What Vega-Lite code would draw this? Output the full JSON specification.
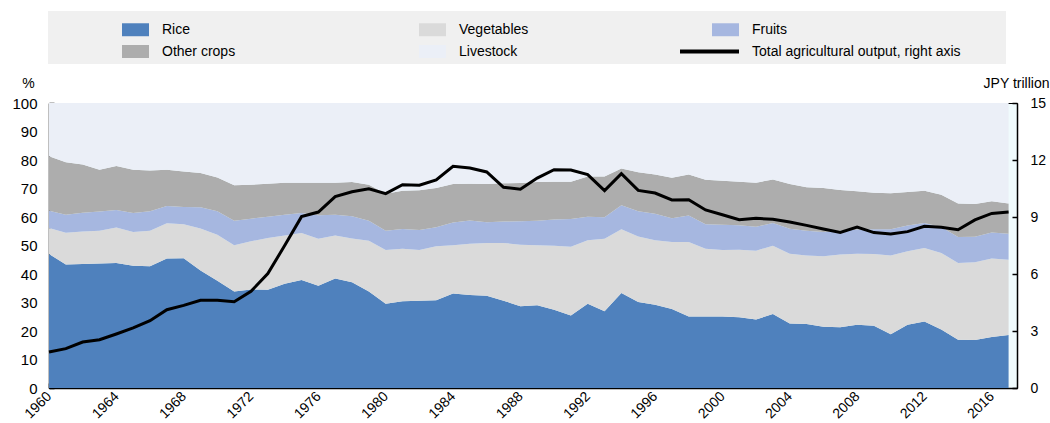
{
  "$schema": "https://vega.github.io/schema/vega-lite/v6.json",
  "width": 968,
  "height": 285,
  "autosize": "none",
  "padding": {"left": 49, "top": 103, "right": 33, "bottom": 35},
  "background": "#ffffff",
  "config": {
    "font": "Liberation Sans",
    "view": {"stroke": "#000000", "strokeWidth": 1, "fill": "#f0fbfd"},
    "axis": {"domainColor": "#000000", "tickColor": "#000000", "labelColor": "#000000", "titleColor": "#000000", "labelFontSize": 14, "titleFontSize": 14, "titleFontWeight": "normal", "grid": false, "domainWidth": 1.5, "tickWidth": 1.5}
  },
  "data": {
    "values": [
      {"year": 1960, "Rice": 47.0, "Vegetables": 9.1, "Fruits": 6.1, "Other crops": 19.1, "Livestock": 18.7, "total": 1.89},
      {"year": 1961, "Rice": 43.3, "Vegetables": 11.2, "Fruits": 6.3, "Other crops": 18.4, "Livestock": 20.8, "total": 2.07},
      {"year": 1962, "Rice": 43.5, "Vegetables": 11.4, "Fruits": 6.6, "Other crops": 16.9, "Livestock": 21.6, "total": 2.42},
      {"year": 1963, "Rice": 43.7, "Vegetables": 11.5, "Fruits": 6.7, "Other crops": 14.7, "Livestock": 23.4, "total": 2.54},
      {"year": 1964, "Rice": 43.9, "Vegetables": 12.4, "Fruits": 6.2, "Other crops": 15.4, "Livestock": 22.1, "total": 2.84},
      {"year": 1965, "Rice": 42.9, "Vegetables": 11.8, "Fruits": 6.7, "Other crops": 15.2, "Livestock": 23.4, "total": 3.16},
      {"year": 1966, "Rice": 42.7, "Vegetables": 12.5, "Fruits": 6.8, "Other crops": 14.3, "Livestock": 23.7, "total": 3.54},
      {"year": 1967, "Rice": 45.4, "Vegetables": 12.4, "Fruits": 6.1, "Other crops": 12.7, "Livestock": 23.4, "total": 4.12},
      {"year": 1968, "Rice": 45.5, "Vegetables": 12.0, "Fruits": 6.0, "Other crops": 12.5, "Livestock": 24.0, "total": 4.35},
      {"year": 1969, "Rice": 41.2, "Vegetables": 14.8, "Fruits": 7.4, "Other crops": 12.0, "Livestock": 24.6, "total": 4.62},
      {"year": 1970, "Rice": 37.6, "Vegetables": 16.2, "Fruits": 8.2, "Other crops": 11.9, "Livestock": 26.1, "total": 4.62},
      {"year": 1971, "Rice": 33.9, "Vegetables": 16.2, "Fruits": 8.6, "Other crops": 12.4, "Livestock": 28.9, "total": 4.54},
      {"year": 1972, "Rice": 34.6, "Vegetables": 16.9, "Fruits": 7.9, "Other crops": 11.9, "Livestock": 28.7, "total": 5.09},
      {"year": 1973, "Rice": 34.5, "Vegetables": 18.1, "Fruits": 7.5, "Other crops": 11.6, "Livestock": 28.3, "total": 6.02},
      {"year": 1974, "Rice": 36.6, "Vegetables": 16.9, "Fruits": 7.3, "Other crops": 11.2, "Livestock": 28.0, "total": 7.5},
      {"year": 1975, "Rice": 37.9, "Vegetables": 16.5, "Fruits": 7.0, "Other crops": 10.6, "Livestock": 28.0, "total": 9.02},
      {"year": 1976, "Rice": 35.9, "Vegetables": 16.5, "Fruits": 8.2, "Other crops": 11.4, "Livestock": 28.0, "total": 9.26},
      {"year": 1977, "Rice": 38.4, "Vegetables": 15.1, "Fruits": 7.3, "Other crops": 11.2, "Livestock": 28.0, "total": 10.07},
      {"year": 1978, "Rice": 37.1, "Vegetables": 15.4, "Fruits": 7.8, "Other crops": 12.0, "Livestock": 27.7, "total": 10.33},
      {"year": 1979, "Rice": 33.9, "Vegetables": 17.8, "Fruits": 7.0, "Other crops": 12.6, "Livestock": 28.7, "total": 10.49},
      {"year": 1980, "Rice": 29.6, "Vegetables": 18.8, "Fruits": 6.8, "Other crops": 13.0, "Livestock": 31.8, "total": 10.23},
      {"year": 1981, "Rice": 30.4, "Vegetables": 18.5, "Fruits": 6.9, "Other crops": 13.4, "Livestock": 30.8, "total": 10.7},
      {"year": 1982, "Rice": 30.6, "Vegetables": 17.8, "Fruits": 7.0, "Other crops": 14.0, "Livestock": 30.6, "total": 10.67},
      {"year": 1983, "Rice": 30.8, "Vegetables": 18.9, "Fruits": 6.7, "Other crops": 13.8, "Livestock": 29.8, "total": 10.95},
      {"year": 1984, "Rice": 33.2, "Vegetables": 16.9, "Fruits": 8.0, "Other crops": 13.5, "Livestock": 28.4, "total": 11.67},
      {"year": 1985, "Rice": 32.6, "Vegetables": 18.0, "Fruits": 8.2, "Other crops": 12.9, "Livestock": 28.3, "total": 11.58},
      {"year": 1986, "Rice": 32.4, "Vegetables": 18.5, "Fruits": 7.3, "Other crops": 13.4, "Livestock": 28.4, "total": 11.37},
      {"year": 1987, "Rice": 30.6, "Vegetables": 20.3, "Fruits": 7.5, "Other crops": 13.4, "Livestock": 28.2, "total": 10.56},
      {"year": 1988, "Rice": 28.7, "Vegetables": 21.6, "Fruits": 8.2, "Other crops": 13.4, "Livestock": 28.1, "total": 10.46},
      {"year": 1989, "Rice": 29.0, "Vegetables": 21.1, "Fruits": 8.6, "Other crops": 13.6, "Livestock": 27.7, "total": 11.05},
      {"year": 1990, "Rice": 27.5, "Vegetables": 22.4, "Fruits": 9.2, "Other crops": 13.3, "Livestock": 27.6, "total": 11.49},
      {"year": 1991, "Rice": 25.4, "Vegetables": 24.2, "Fruits": 9.7, "Other crops": 13.1, "Livestock": 27.6, "total": 11.47},
      {"year": 1992, "Rice": 29.6, "Vegetables": 22.2, "Fruits": 8.3, "Other crops": 14.1, "Livestock": 25.8, "total": 11.23},
      {"year": 1993, "Rice": 26.9, "Vegetables": 25.5, "Fruits": 7.5, "Other crops": 14.3, "Livestock": 25.8, "total": 10.39},
      {"year": 1994, "Rice": 33.3, "Vegetables": 22.4, "Fruits": 8.4, "Other crops": 12.9, "Livestock": 23.0, "total": 11.28},
      {"year": 1995, "Rice": 30.2, "Vegetables": 23.0, "Fruits": 8.8, "Other crops": 13.7, "Livestock": 24.3, "total": 10.4},
      {"year": 1996, "Rice": 29.2, "Vegetables": 22.6, "Fruits": 9.3, "Other crops": 13.8, "Livestock": 25.1, "total": 10.26},
      {"year": 1997, "Rice": 27.7, "Vegetables": 23.5, "Fruits": 8.4, "Other crops": 14.2, "Livestock": 26.2, "total": 9.9},
      {"year": 1998, "Rice": 25.1, "Vegetables": 26.1, "Fruits": 9.3, "Other crops": 14.4, "Livestock": 25.1, "total": 9.91},
      {"year": 1999, "Rice": 25.1, "Vegetables": 23.8, "Fruits": 8.6, "Other crops": 15.6, "Livestock": 26.9, "total": 9.37},
      {"year": 2000, "Rice": 25.1, "Vegetables": 23.3, "Fruits": 8.9, "Other crops": 15.4, "Livestock": 27.3, "total": 9.12},
      {"year": 2001, "Rice": 24.8, "Vegetables": 23.7, "Fruits": 8.6, "Other crops": 15.3, "Livestock": 27.6, "total": 8.86},
      {"year": 2002, "Rice": 24.0, "Vegetables": 24.2, "Fruits": 8.4, "Other crops": 15.4, "Livestock": 28.0, "total": 8.93},
      {"year": 2003, "Rice": 26.0, "Vegetables": 23.9, "Fruits": 8.0, "Other crops": 15.3, "Livestock": 26.8, "total": 8.88},
      {"year": 2004, "Rice": 22.6, "Vegetables": 24.5, "Fruits": 8.8, "Other crops": 15.7, "Livestock": 28.4, "total": 8.74},
      {"year": 2005, "Rice": 22.5, "Vegetables": 24.0, "Fruits": 8.7, "Other crops": 15.2, "Livestock": 29.6, "total": 8.56},
      {"year": 2006, "Rice": 21.5, "Vegetables": 24.7, "Fruits": 8.5, "Other crops": 15.5, "Livestock": 29.8, "total": 8.37},
      {"year": 2007, "Rice": 21.3, "Vegetables": 25.5, "Fruits": 8.4, "Other crops": 14.3, "Livestock": 30.5, "total": 8.19},
      {"year": 2008, "Rice": 22.2, "Vegetables": 24.9, "Fruits": 8.5, "Other crops": 13.4, "Livestock": 31.0, "total": 8.47},
      {"year": 2009, "Rice": 21.8, "Vegetables": 25.2, "Fruits": 8.7, "Other crops": 12.8, "Livestock": 31.5, "total": 8.18},
      {"year": 2010, "Rice": 18.9, "Vegetables": 27.6, "Fruits": 9.2, "Other crops": 12.6, "Livestock": 31.7, "total": 8.11},
      {"year": 2011, "Rice": 22.2, "Vegetables": 25.8, "Fruits": 9.0, "Other crops": 11.8, "Livestock": 31.2, "total": 8.23},
      {"year": 2012, "Rice": 23.3, "Vegetables": 25.8, "Fruits": 8.8, "Other crops": 11.3, "Livestock": 30.8, "total": 8.51},
      {"year": 2013, "Rice": 20.5, "Vegetables": 26.9, "Fruits": 9.1, "Other crops": 11.3, "Livestock": 32.2, "total": 8.46},
      {"year": 2014, "Rice": 16.9, "Vegetables": 27.0, "Fruits": 9.1, "Other crops": 11.7, "Livestock": 35.3, "total": 8.33},
      {"year": 2015, "Rice": 16.8, "Vegetables": 27.3, "Fruits": 9.0, "Other crops": 11.5, "Livestock": 35.4, "total": 8.85},
      {"year": 2016, "Rice": 17.9, "Vegetables": 27.5, "Fruits": 9.2, "Other crops": 10.9, "Livestock": 34.5, "total": 9.19},
      {"year": 2017, "Rice": 18.6, "Vegetables": 26.4, "Fruits": 9.1, "Other crops": 10.6, "Livestock": 35.3, "total": 9.26}
    ]
  },
  "layer": [
    {
      "transform": [
        {"fold": ["Rice", "Vegetables", "Fruits", "Other crops", "Livestock"], "as": ["series", "share"]},
        {"calculate": "indexof(['Rice', 'Vegetables', 'Fruits', 'Other crops', 'Livestock'], datum.series)", "as": "stackOrder"}
      ],
      "mark": {"type": "area", "interpolate": "linear"},
      "encoding": {
        "x": {
          "field": "year", "type": "quantitative",
          "scale": {"domain": [1960, 2017.5], "nice": false, "zero": false},
          "axis": {
            "title": null,
            "values": [1960,1961,1962,1963,1964,1965,1966,1967,1968,1969,1970,1971,1972,1973,1974,1975,1976,1977,1978,1979,1980,1981,1982,1983,1984,1985,1986,1987,1988,1989,1990,1991,1992,1993,1994,1995,1996,1997,1998,1999,2000,2001,2002,2003,2004,2005,2006,2007,2008,2009,2010,2011,2012,2013,2014,2015,2016,2017],
            "format": "d",
            "labelExpr": "datum.value % 4 === 0 ? datum.label : ''",
            "labelAngle": -45,
            "labelAlign": "right",
            "labelBaseline": "middle",
            "labelOverlap": false,
            "labelFlush": false,
            "tickSize": -5,
            "labelPadding": 11
          }
        },
        "y": {
          "field": "share", "type": "quantitative", "stack": "zero",
          "scale": {"domain": [0, 100], "nice": false},
          "axis": {
            "values": [0, 10, 20, 30, 40, 50, 60, 70, 80, 90, 100],
            "tickSize": -5,
            "labelPadding": 17,
            "labelFontSize": 15,
            "title": "%",
            "titleAngle": 0,
            "titleX": -21,
            "titleY": -16,
            "titleAlign": "center",
            "titleBaseline": "alphabetic"
          }
        },
        "order": {"field": "stackOrder", "type": "quantitative", "sort": "ascending"},
        "color": {
          "field": "series", "type": "nominal",
          "sort": ["Rice", "Vegetables", "Fruits", "Other crops", "Livestock", "Total agricultural output, right axis"],
          "scale": {
            "domain": ["Rice", "Vegetables", "Fruits", "Other crops", "Livestock", "Total agricultural output, right axis"],
            "range": ["#4f81bd", "#dadada", "#a6b7e0", "#adadad", "#ebeff7", "#000000"]
          },
          "legend": {
            "orient": "none",
            "legendX": -1,
            "legendY": -92,
            "direction": "horizontal",
            "columns": 3,
            "title": "\u00a0",
            "titleOrient": "right",
            "titlePadding": 40,
            "fillColor": "#f0f0f0",
            "padding": 5,
            "symbolSize": 729,
            "symbolStrokeWidth": 0,
            "symbolOffset": 69,
            "labelOffset": 13,
            "columnPadding": 114,
            "rowPadding": 1,
            "labelFontSize": 14,
            "labelColor": "#000000",
            "labelLimit": 400,
            "encode": {
              "symbols": {
                "update": {
                  "shape": {"signal": "datum.label === 'Total agricultural output, right axis' ? 'M-3.37,-0.15H1V0.15H-3.37Z' : 'M-1,-0.48H1V0.48H-1Z'"},
                  "fill": {"scale": "color", "field": "value"},
                  "stroke": {"value": "transparent"},
                  "strokeWidth": {"value": 0},
                  "opacity": {"value": 1}
                }
              }
            }
          }
        }
      }
    },
    {
      "mark": {"type": "line", "strokeWidth": 3},
      "encoding": {
        "x": {"field": "year", "type": "quantitative"},
        "y": {
          "field": "total", "type": "quantitative",
          "scale": {"domain": [0, 15], "nice": false},
          "axis": {
            "orient": "right",
            "values": [0, 3, 6, 9, 12, 15],
            "tickSize": -5,
            "labelPadding": 18,
            "title": "JPY trillion",
            "titleAngle": 0,
            "titleX": 32,
            "titleY": -16,
            "titleAlign": "right",
            "titleBaseline": "alphabetic"
          }
        },
        "color": {"datum": "Total agricultural output, right axis", "type": "nominal"}
      }
    }
  ],
  "resolve": {"scale": {"y": "independent"}}
}
